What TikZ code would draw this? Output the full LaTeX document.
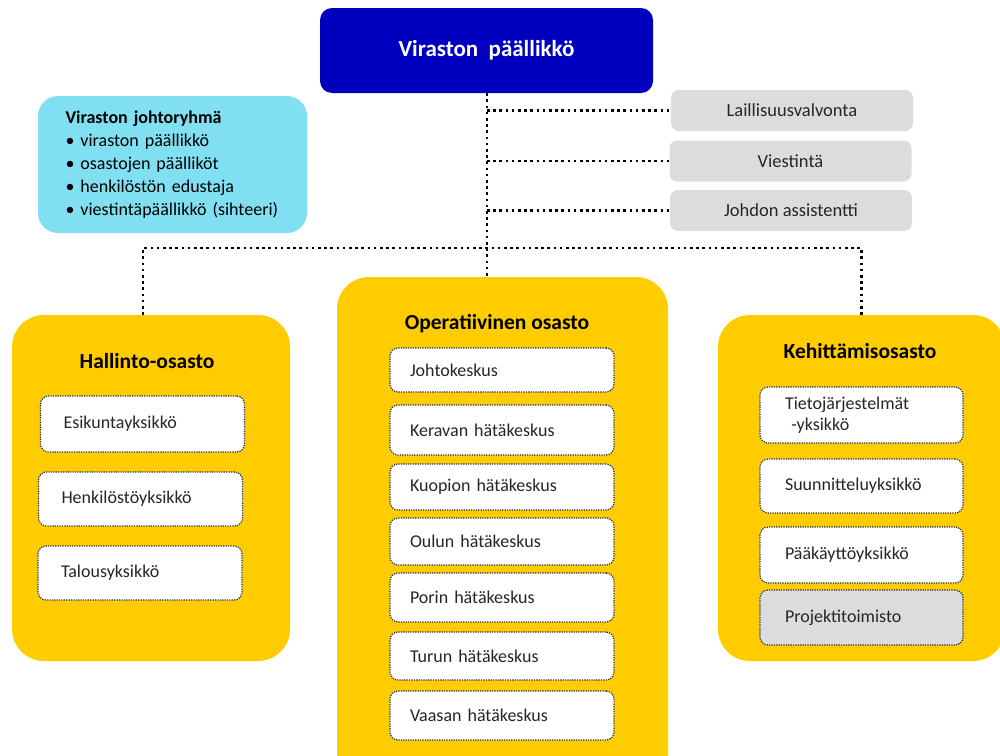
\documentclass[tikz,border=0pt]{standalone}
\usepackage{fontspec}
\setmainfont{Carlito}
\usetikzlibrary{calc}

\definecolor{bossblue}{RGB}{0,0,190}
\definecolor{teamcyan}{RGB}{128,224,242}
\definecolor{staffgrey}{RGB}{220,220,220}
\definecolor{deptyellow}{RGB}{255,204,0}
\definecolor{unitline}{RGB}{30,40,70}
\definecolor{unittext}{RGB}{38,38,38}

\tikzset{
  conn/.style={black, line width=2.6pt, dash pattern=on 2.6pt off 3.6pt},
  dept/.style={fill=deptyellow, rounded corners=32pt, inner sep=0pt},
  depttitle/.style={font=\fontsize{21.5}{25}\selectfont\bfseries, text=black},
  staff/.style={fill=staffgrey, rounded corners=8pt, minimum width=242pt, minimum height=41pt,
    font=\fontsize{18.5}{22}\selectfont, text=unittext},
  unit/.style={draw=unitline, line width=1.2pt, dash pattern=on 1.2pt off 1.2pt, fill=white,
    rounded corners=8pt, align=left, text=unittext, font=\fontsize{18}{21}\selectfont},
  hunit/.style={unit, minimum width=204pt, text width=158pt},
  ounit/.style={unit, minimum width=224pt, text width=184pt},
  kunit/.style={unit, minimum width=203pt, text width=153pt}
}

\begin{document}
\begin{tikzpicture}[x=1pt, y=-1pt]
\useasboundingbox (0,0) rectangle (1000,755);
\clip (0,0) rectangle (1000,755);

% top
\node[fill=bossblue, rounded corners=12pt, minimum width=333pt, minimum height=85pt,
  text=white, font=\fontsize{23}{27}\selectfont\bfseries] (boss) at (486.5,50.5) {Viraston\ \ päällikkö};

\node[fill=teamcyan, rounded corners=20pt, minimum width=269pt, minimum height=137pt,
  text width=214pt, align=left, font=\fontsize{18}{23}\selectfont] (team) at (172.5,164.5)
  {\textbf{Viraston johtoryhmä}\\
   \textbullet\ viraston päällikkö\\
   \textbullet\ osastojen päälliköt\\
   \textbullet\ henkilöstön edustaja\\
   \textbullet\ viestintäpäällikkö (sihteeri)};

\node[staff] (laill) at (792,110.5) {Laillisuusvalvonta};
\node[staff] (viest) at (790.5,161) {Viestintä};
\node[staff] (assist) at (791,210.5) {Johdon assistentti};

% departments
\node[dept, minimum width=278pt, minimum height=346pt] (hall) at (151,488) {};
\node[dept, minimum width=331pt, minimum height=513pt] (oper) at (502.5,533.5) {};
\node[dept, minimum width=287pt, minimum height=346pt] (kehi) at (861.5,488) {};

\node[depttitle] (hallT) at (147,361) {Hallinto-osasto};
\node[depttitle] (operT) at (497,324) {Operatiivinen osasto};
\node[depttitle] (kehiT) at (860,351) {Kehittämisosasto};

% connectors
\coordinate (bar) at (487,248);
\draw[conn] (boss.south -| bar) -- (oper.north -| bar);
\draw[conn] (laill.west -| bar) -- (laill.west);
\draw[conn] (viest.west -| bar) -- (viest.west);
\draw[conn] (assist.west -| bar) -- (assist.west);
\draw[conn] ([xshift=-8pt]hall.north) |- (bar) -| (kehi.north);

% Hallinto-osasto
\node[hunit, minimum height=56pt] (esik) at (142.5,424) {Esikuntayksikkö};
\node[hunit, minimum height=54pt] (henk) at (140.5,499) {Henkilöstöyksikkö};
\node[hunit, minimum height=54pt] (talous) at (140,573) {Talousyksikkö};

% Operatiivinen osasto
\node[ounit, minimum height=44pt] (johto) at (502,370) {Johtokeskus};
\node[ounit, minimum height=50pt] (kerava) at (502,430) {Keravan hätäkeskus};
\node[ounit, minimum height=46pt] (kuopio) at (502,487) {Kuopion hätäkeskus};
\node[ounit, minimum height=47pt] (oulu) at (502,541.5) {Oulun hätäkeskus};
\node[ounit, minimum height=49pt] (pori) at (502,597.5) {Porin hätäkeskus};
\node[ounit, minimum height=48pt] (turku) at (502,656) {Turun hätäkeskus};
\node[ounit, minimum height=49pt] (vaasa) at (502,715.5) {Vaasan hätäkeskus};

% Kehittamisosasto
\node[kunit, minimum height=56pt] (tieto) at (861.5,415) {Tietojärjestelmät\\\hspace{0.35em}-yksikkö};
\node[kunit, minimum height=54pt] (suunn) at (861.5,486) {Suunnitteluyksikkö};
\node[kunit, minimum height=56pt] (paak) at (861.5,555) {Pääkäyttöyksikkö};
\node[kunit, minimum height=55pt, fill=staffgrey] (proj) at (861.5,617.5) {Projektitoimisto};
\end{tikzpicture}
\end{document}
